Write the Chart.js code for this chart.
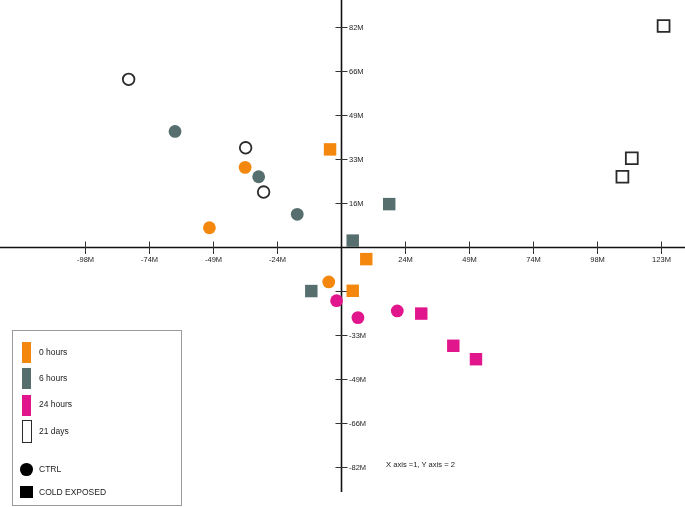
<!DOCTYPE html>
<html>
<head>
<meta charset="utf-8">
<script src="https://cdn.jsdelivr.net/npm/chart.js@4.4.1/dist/chart.umd.min.js"></script>
<style>
  body { margin: 0; background: #fff; font-family: "Liberation Sans", Arial, sans-serif; }
  #wrap { position: relative; width: 685px; height: 507px; }
  #chart { position: absolute; left: 0; top: 0; }
  .box { position: absolute; left: 12px; top: 330px; width: 170px; height: 176px; border: 1px solid #9a9a9a; box-sizing: border-box; }
  .sw { position: absolute; box-sizing: border-box; }
  .lbl { position: absolute; font-size: 8.5px; line-height: 10px; color: #222; white-space: nowrap; }
  .note { position: absolute; left: 386px; top: 460px; font-size: 7.6px; line-height: 10px; color: #222; white-space: nowrap; }
</style>
</head>
<body>
<div id="wrap">
  <canvas id="chart" width="685" height="507"></canvas>
  <div class="box"></div>
  <div id="legend"></div>
  <div class="note">X axis =1, Y axis = 2</div>
</div>
<script>
// ── groups / colours ──
const groupNames  = ['0 hours', '6 hours', '24 hours', '21 days'];
const groupColors = ['#f4880f', '#566e6e', '#e2168c', null];   // null = open marker
const shapeNames  = ['CTRL', 'COLD EXPOSED'];

// ── points [x, y] in M ──
const ctrl0h  = [[-36.8, 29.5], [-50.5, 7.0], [-4.7, -13.2]];
const ctrl6h  = [[-63.7, 42.9], [-31.6, 26.0], [-16.8, 12.0]];
const ctrl24h = [[-1.7, -20.2], [6.5, -26.5], [21.6, -24.0]];
const ctrl21d = [[-81.5, 62.3], [-36.6, 36.8], [-29.7, 20.3]];
const cold0h  = [[-4.2, 36.2], [9.7, -4.7], [4.5, -16.5]];
const cold6h  = [[18.5, 15.8], [4.5, 2.2], [-11.4, -16.6]];
const cold24h = [[30.8, -25.0], [43.1, -37.0], [51.8, -42.0]];
const cold21d = [[123.8, 82.2], [111.6, 32.9], [108.0, 26.0]];

// ── ticks ──
const xTickValues = [-98.4, -73.8, -49.2, -24.6, 24.6, 49.2, 73.8, 98.4, 123.0];
const xTickLabels = ['-98M', '-74M', '-49M', '-24M', '24M', '49M', '74M', '98M', '123M'];
const yTickValues = [82, 65.6, 49.2, 32.8, 16.4, -16.4, -32.8, -49.2, -65.6, -82];
const yTickLabels = ['82M', '66M', '49M', '33M', '16M', '', '-33M', '-49M', '-66M', '-82M'];

const ctrlSets = [ctrl0h, ctrl6h, ctrl24h, ctrl21d];
const coldSets = [cold0h, cold6h, cold24h, cold21d];

function makeSet(pts, gi, isCold) {
  const open = groupColors[gi] === null;
  const r = isCold ? (open ? 8.4 : 8.8) : (open ? 5.8 : 6.4);
  return {
    label: groupNames[gi] + (isCold ? ' cold' : ' ctrl'),
    data: pts.map(p => ({ x: p[0], y: p[1] })),
    pointStyle: isCold ? 'rect' : 'circle',
    pointRadius: r,
    pointHoverRadius: r,
    backgroundColor: open ? 'rgba(255,255,255,0)' : groupColors[gi],
    borderColor: open ? '#2a2a2a' : groupColors[gi],
    borderWidth: open ? 1.8 : 0,
    clip: false
  };
}

const datasets = [];
ctrlSets.forEach((s, i) => datasets.push(makeSet(s, i, false)));
coldSets.forEach((s, i) => datasets.push(makeSet(s, i, true)));

// axes crossing at the origin, drawn under the points
const crossAxes = {
  id: 'crossAxes',
  beforeDatasetsDraw(chart) {
    const { ctx, scales: { x, y } } = chart;
    const x0 = Math.round(x.getPixelForValue(0)) + 0.5;
    const y0 = Math.round(y.getPixelForValue(0)) + 0.5;
    ctx.save();
    ctx.strokeStyle = '#111';
    ctx.lineWidth = 1.6;
    ctx.beginPath();
    ctx.moveTo(0, y0); ctx.lineTo(chart.width, y0);
    ctx.moveTo(x0, 0); ctx.lineTo(x0, 492);
    ctx.stroke();

    ctx.strokeStyle = '#333';
    ctx.lineWidth = 1;
    ctx.fillStyle = '#222';
    ctx.font = '7.5px "Liberation Sans", Arial, sans-serif';
    ctx.textAlign = 'center';
    ctx.textBaseline = 'middle';
    xTickValues.forEach((v, i) => {
      const px = Math.round(x.getPixelForValue(v)) + 0.5;
      ctx.beginPath(); ctx.moveTo(px, y0 - 6); ctx.lineTo(px, y0 + 6.5); ctx.stroke();
      ctx.fillText(xTickLabels[i], px, y0 + 12);
    });
    ctx.textAlign = 'left';
    yTickValues.forEach((v, i) => {
      const py = Math.round(y.getPixelForValue(v)) + 0.5;
      ctx.beginPath(); ctx.moveTo(x0 - 6, py); ctx.lineTo(x0 + 6, py); ctx.stroke();
      if (yTickLabels[i]) ctx.fillText(yTickLabels[i], x0 + 7.5, py);
    });
    ctx.restore();
  }
};

new Chart(document.getElementById('chart'), {
  type: 'scatter',
  data: { datasets },
  options: {
    responsive: false, animation: false, devicePixelRatio: 1,
    layout: { padding: 0, autoPadding: false },
    plugins: { legend: { display: false }, tooltip: { enabled: false } },
    scales: {
      x: { type: 'linear', display: false, min: -130.87, max: 132.02 },
      y: { type: 'linear', display: false, min: -97.09, max: 91.88 }
    }
  },
  plugins: [crossAxes]
});

// legend box (left bottom)
const lg = document.getElementById('legend');
const rowTops = [342, 368, 394.5, 420];
const rowMids = [352.3, 378.3, 404.3, 430.7];
groupNames.forEach((name, i) => {
  const open = groupColors[i] === null;
  const sw = document.createElement('div');
  sw.className = 'sw';
  sw.style.cssText = open
    ? `left:21.5px;top:${rowTops[i]}px;width:10px;height:22.5px;border:1.8px solid #2a2a2a;`
    : `left:22px;top:${rowTops[i]}px;width:8.5px;height:21px;background:${groupColors[i]};`;
  lg.appendChild(sw);
  const t = document.createElement('div');
  t.className = 'lbl';
  t.style.cssText = `left:39px;top:${rowMids[i] - 5}px;`;
  t.textContent = name;
  lg.appendChild(t);
});
const shapeMids = [469.3, 492.3];
shapeNames.forEach((name, i) => {
  const sw = document.createElement('div');
  sw.className = 'sw';
  sw.style.cssText = i === 0
    ? 'left:20.4px;top:463px;width:12.8px;height:12.8px;border-radius:50%;background:#000;'
    : 'left:19.5px;top:485.8px;width:13.6px;height:12.6px;background:#000;';
  lg.appendChild(sw);
  const t = document.createElement('div');
  t.className = 'lbl';
  t.style.cssText = `left:39px;top:${shapeMids[i] - 5}px;`;
  t.textContent = name;
  lg.appendChild(t);
});
</script>
</body>
</html>
